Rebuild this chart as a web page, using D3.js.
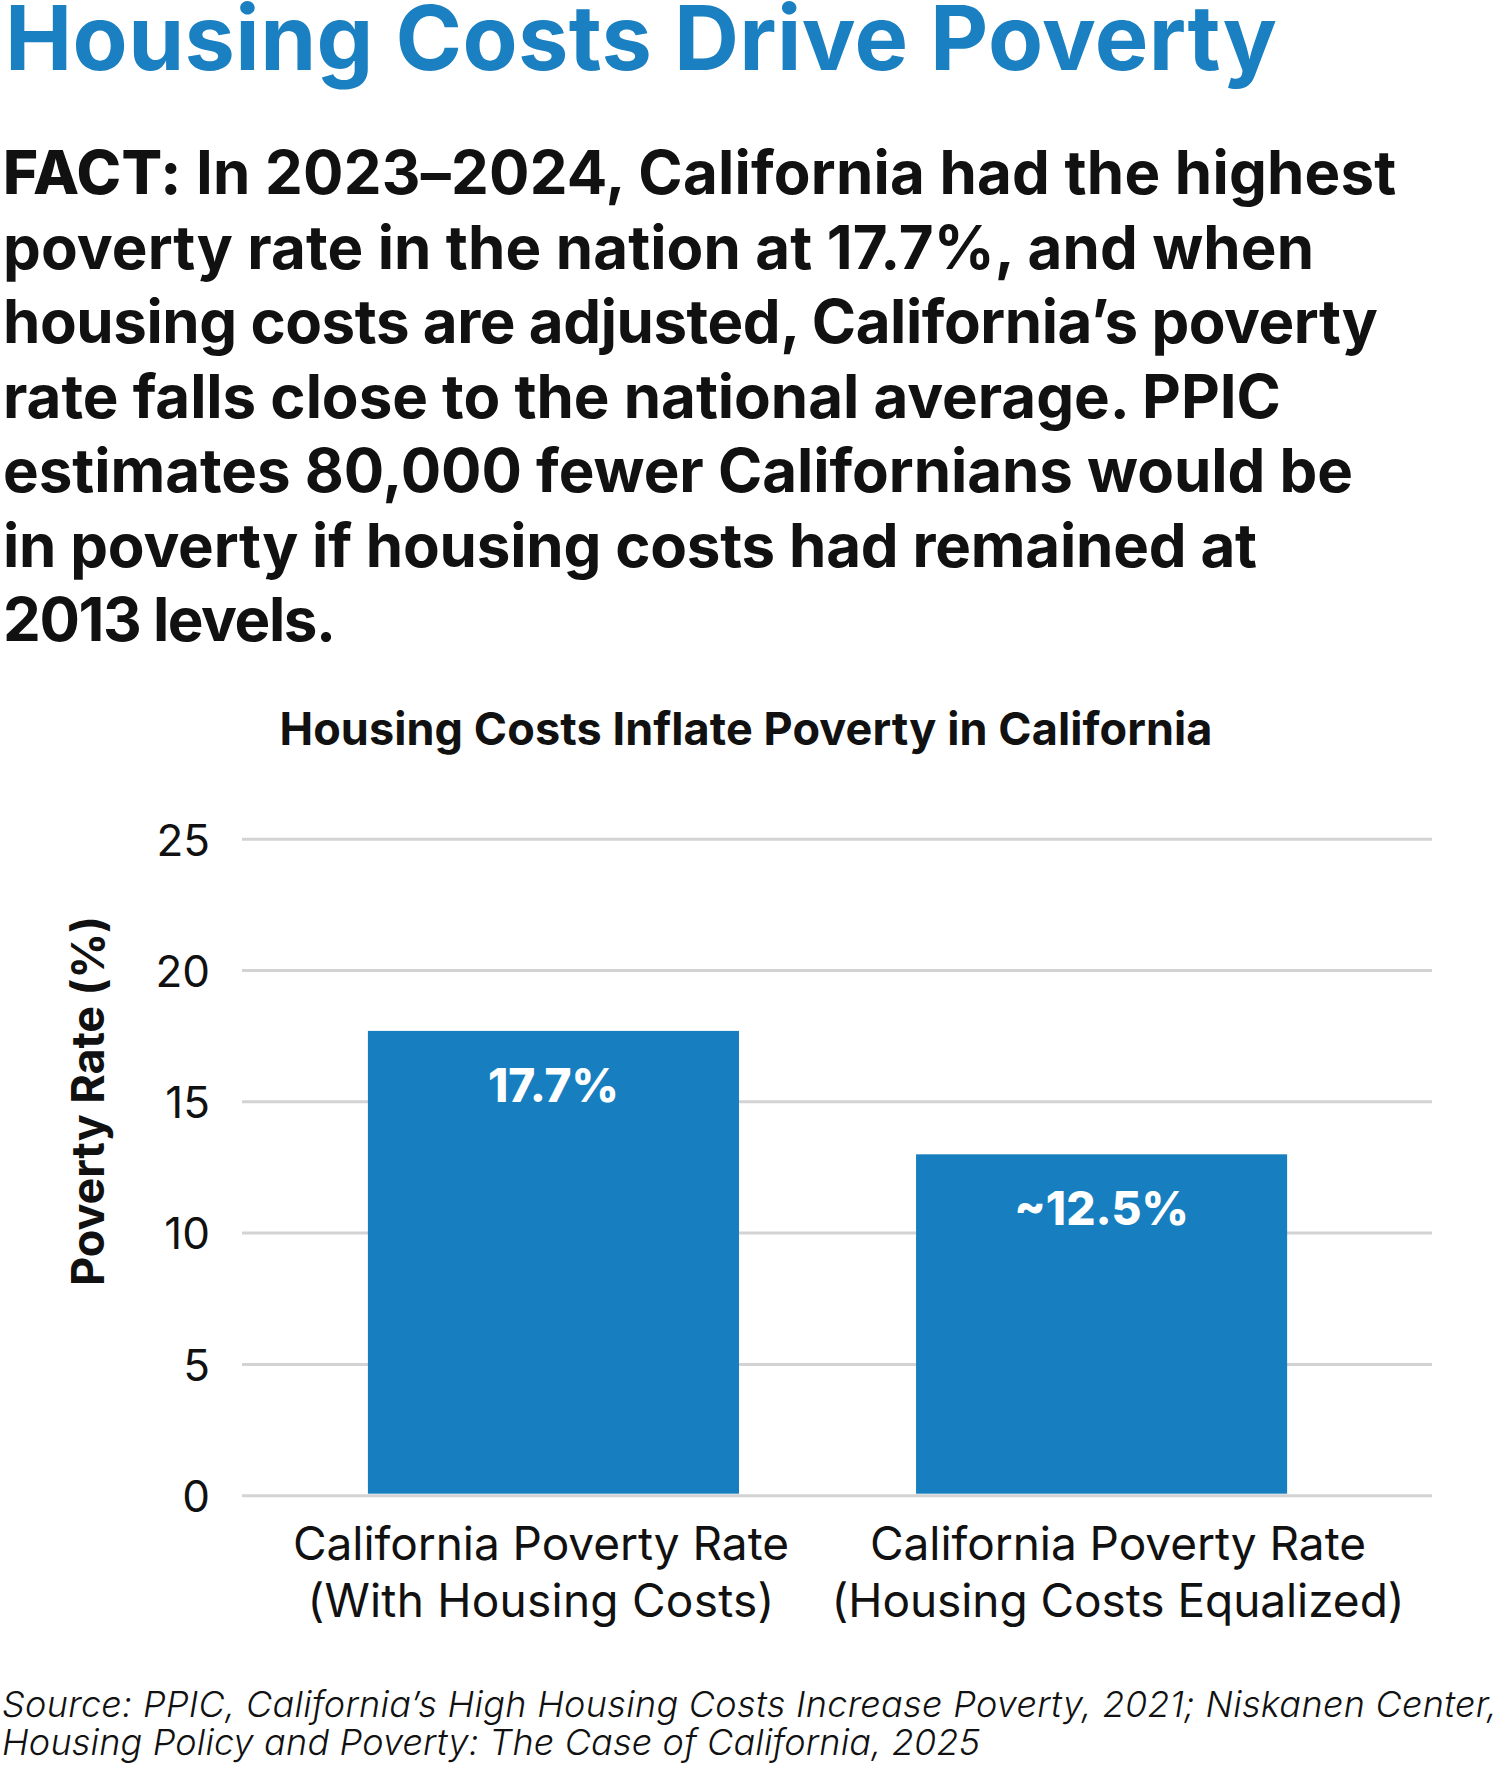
<!DOCTYPE html>
<html><head><meta charset="utf-8">
<script src="https://cdn.jsdelivr.net/npm/d3@7"></script>
<style>
html,body{margin:0;padding:0;background:#fff;}
svg{display:block;}
</style></head>
<body>
<svg id="chart" width="1500" height="1768"></svg>
<script>
// ---- data ----
const categories = ["California Poverty Rate|(With Housing Costs)", "California Poverty Rate|(Housing Costs Equalized)"];
const values = [17.7, 13.0];
const valueLabels = ["17.7%", "~12.5%"];
const yTicks = [0, 5, 10, 15, 20, 25];
const titleText = "Housing Costs Drive Poverty";
const factLines = [
  ["FACT:", " In 2023–2024, California had the highest"],
  ["", "poverty rate in the nation at 17.7%, and when"],
  ["", "housing costs are adjusted, California’s poverty"],
  ["", "rate falls close to the national average. PPIC"],
  ["", "estimates 80,000 fewer Californians would be"],
  ["", "in poverty if housing costs had remained at"],
  ["", "2013 levels."]
];
const chartTitle = "Housing Costs Inflate Poverty in California";
const yLabel = "Poverty Rate (%)";
const sourceLines = [
  "Source: PPIC, California’s High Housing Costs Increase Poverty, 2021; Niskanen Center,",
  "Housing Policy and Poverty: The Case of California, 2025"
];

// ---- drawing ----
const svg = d3.select("#chart");
const FONT = "Inter, 'Noto Sans', sans-serif";
const BLUE = "#177FBF";

// adjust letter-spacing so a text reaches a target width
function fit(sel, target) {
  const node = sel.node();
  const w = node.getComputedTextLength();
  const n = node.textContent.length;
  if (n > 1) sel.attr("letter-spacing", (target - w) / (n - 1));
  return sel;
}

fit(svg.append("text").attr("x", 5).attr("y", 70)
  .attr("font-family", FONT).attr("font-weight", 700).attr("font-size", 90)
  .attr("fill", "#1A80C2")
  .text(titleText), 1272);

const factWidths = [1393, 1311, 1375, 1278, 1350, 1254, 333];
const factG = svg.append("g").attr("font-family", FONT).attr("font-size", 60).attr("fill", "#111");
factLines.forEach((ln, i) => {
  const t = factG.append("text").attr("x", 3).attr("y", 194 + i * 74.5);
  if (ln[0]) t.append("tspan").attr("font-weight", 800).text(ln[0]);
  t.append("tspan").attr("font-weight", 700).text(ln[1]);
  fit(t, factWidths[i]);
});

fit(svg.append("text").attr("x", 746).attr("y", 745).attr("text-anchor", "middle")
  .attr("font-family", FONT).attr("font-weight", 700).attr("font-size", 45).attr("fill", "#111")
  .text(chartTitle), 933);

const y = d3.scaleLinear().domain([0, 25]).range([1495.7, 839.2]);
const x = d3.scaleBand().domain(categories).range([242, 1432])
  .paddingInner(0.323).paddingOuter(0.247).align(0.465);
const xLab = d3.scalePoint().domain(categories).range([541, 1118]);

const grid = svg.append("g");
grid.selectAll("line").data(yTicks).join("line")
  .attr("x1", 242).attr("x2", 1432)
  .attr("y1", d => y(d)).attr("y2", d => y(d))
  .attr("stroke", "#d3d3d3").attr("stroke-width", 3);

const yAxis = svg.append("g").attr("transform", "translate(210,0)")
  .call(d3.axisLeft(y).tickValues(yTicks).tickSize(0).tickPadding(0));
yAxis.select(".domain").remove();
yAxis.selectAll("text").attr("font-family", FONT).attr("font-size", 44)
  .attr("fill", "#111").attr("dy", "0.36em");

svg.append("g").selectAll("rect").data(values).join("rect")
  .attr("x", (d, i) => x(categories[i]))
  .attr("width", x.bandwidth())
  .attr("y", d => y(d))
  .attr("height", d => y(0) - 2 - y(d))
  .attr("fill", BLUE);

svg.append("g").selectAll("text").data(values).join("text")
  .attr("x", (d, i) => x(categories[i]) + x.bandwidth() / 2)
  .attr("y", d => y(d) + 71)
  .attr("text-anchor", "middle")
  .attr("font-family", FONT).attr("font-weight", 800).attr("font-size", 46).attr("fill", "#fff")
  .text((d, i) => valueLabels[i]);

const xLabWidths = [[496, 467], [496, 573]];
const xl = svg.append("g").attr("font-family", FONT).attr("font-size", 46).attr("fill", "#111");
categories.forEach((c, ci) => {
  c.split("|").forEach((part, j) => {
    fit(xl.append("text").attr("x", xLab(c)).attr("y", 1560 + j * 57)
      .attr("text-anchor", "middle").text(part), xLabWidths[ci][j]);
  });
});

fit(svg.append("text").attr("transform", "translate(104,1101) rotate(-90)")
  .attr("text-anchor", "middle").attr("font-family", FONT).attr("font-weight", 700)
  .attr("font-size", 45).attr("fill", "#111").text(yLabel), 370);

const srcWidths = [1495, 978];
const src = svg.append("g").attr("font-family", FONT).attr("font-style", "italic")
  .attr("font-weight", 300).attr("font-size", 36).attr("fill", "#111");
sourceLines.forEach((s, i) => {
  fit(src.append("text").attr("x", 2).attr("y", 1717 + i * 38).text(s), srcWidths[i]);
});
</script>
</body></html>
